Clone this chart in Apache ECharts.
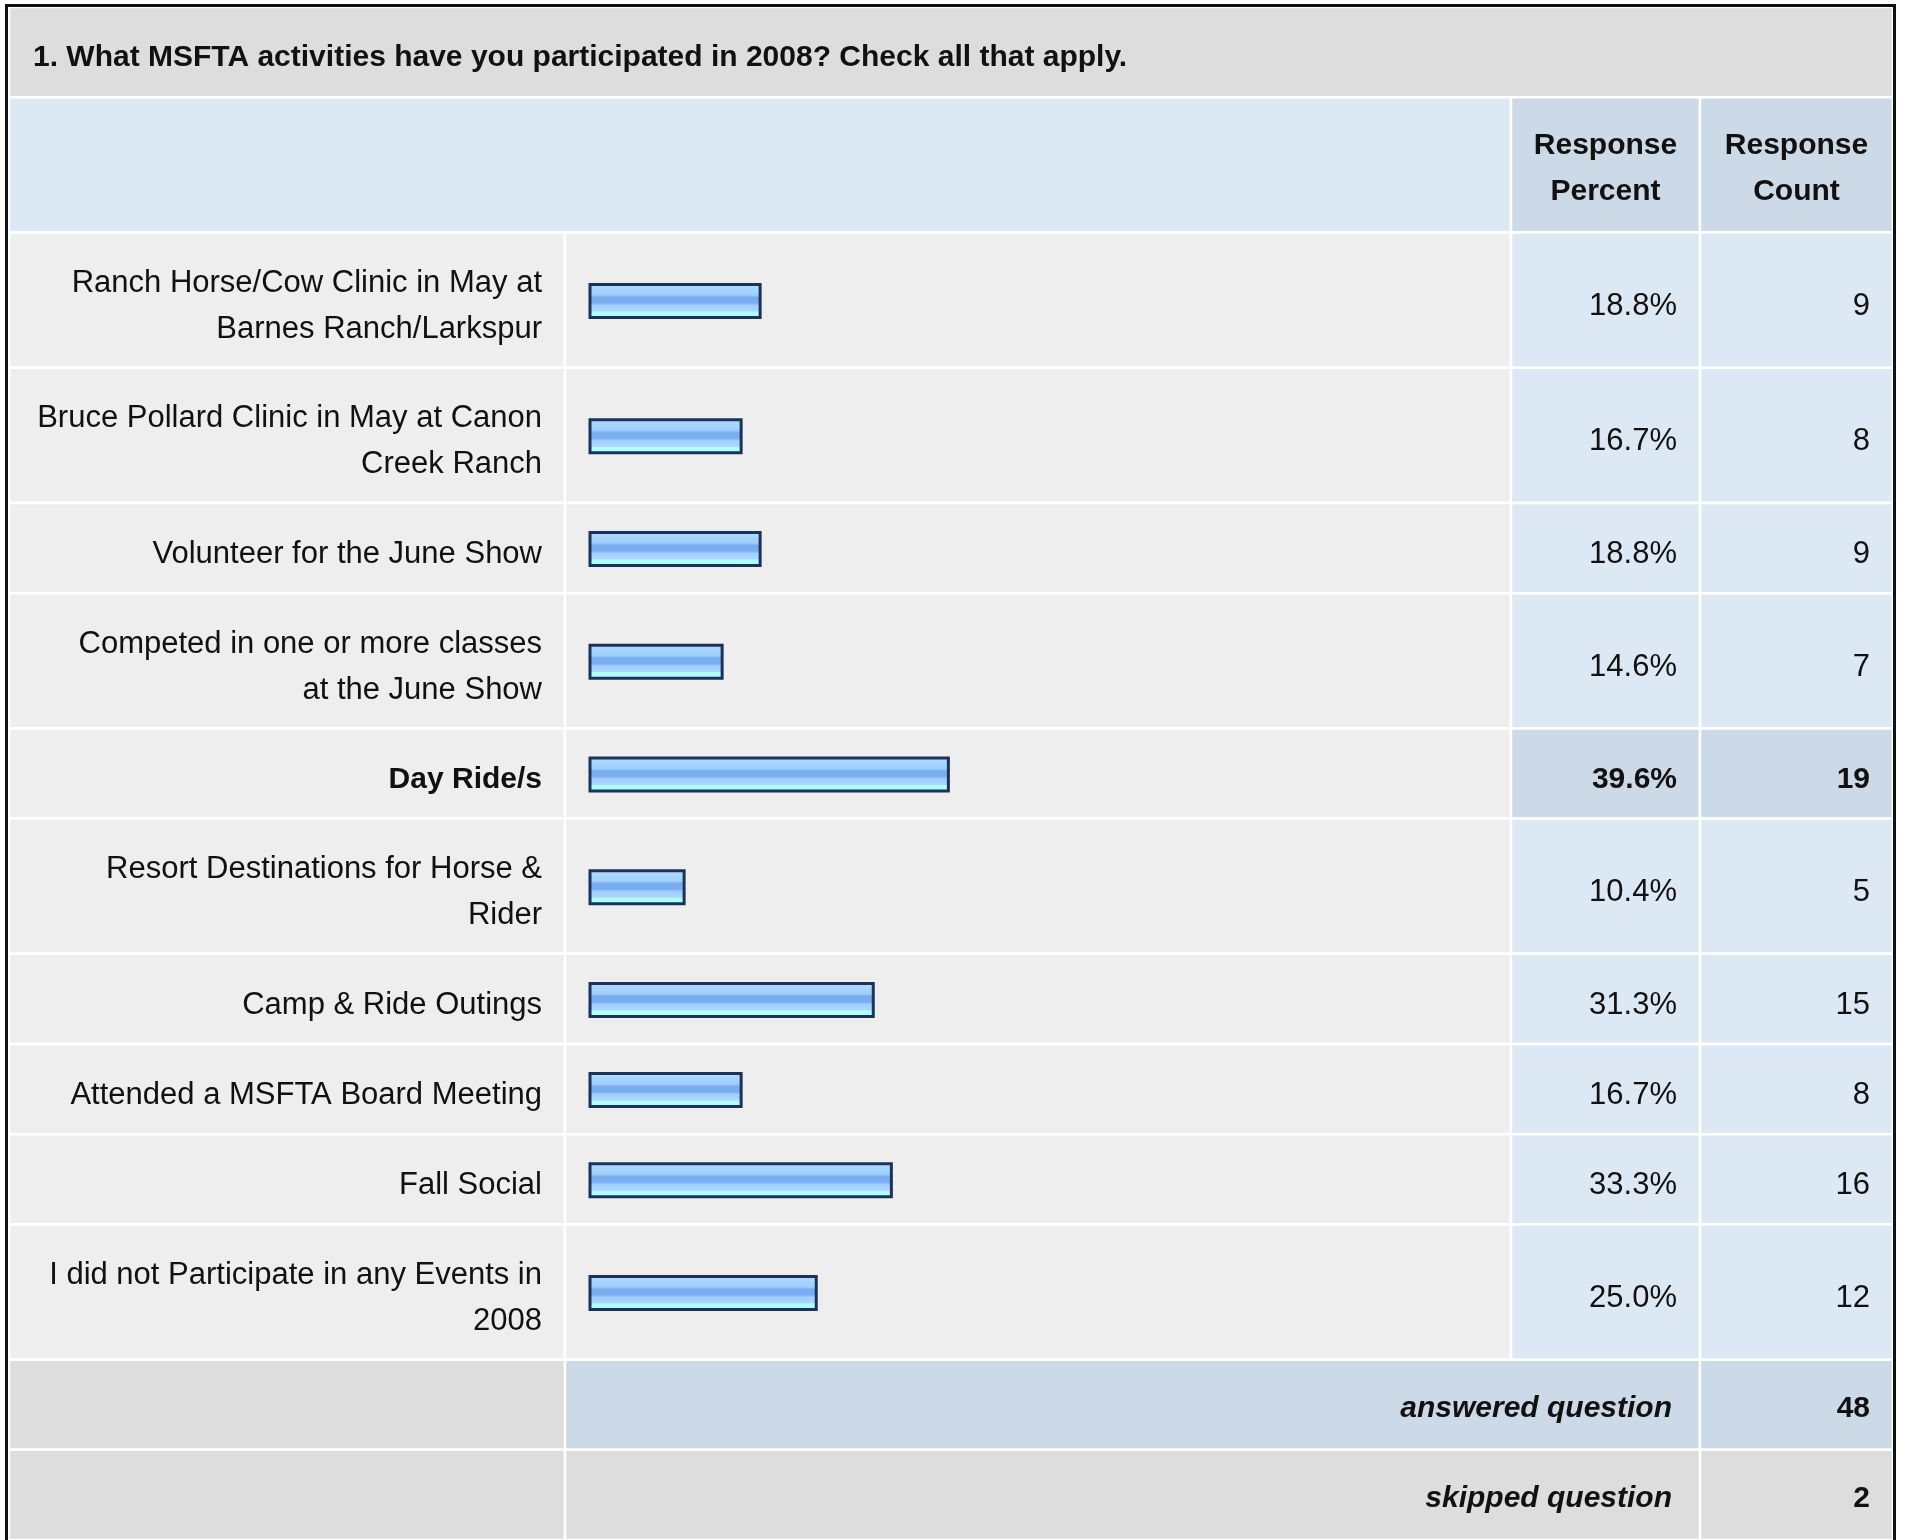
<!DOCTYPE html>
<html>
<head>
<meta charset="utf-8">
<script src="https://cdn.jsdelivr.net/npm/echarts@6/dist/echarts.min.js"></script>
<style>
html,body{margin:0;padding:0;background:#fff;}
#chart{width:1907px;height:1540px;}
</style>
</head>
<body>
<div id="chart"></div>
<script>
// ---------- data ----------
const title = '1. What MSFTA activities have you participated in 2008? Check all that apply.';
const headerLabels = ['Response\nPercent', 'Response\nCount'];
const categories = [
  'Ranch Horse/Cow Clinic in May at\nBarnes Ranch/Larkspur',
  'Bruce Pollard Clinic in May at Canon\nCreek Ranch',
  'Volunteer for the June Show',
  'Competed in one or more classes\nat the June Show',
  'Day Ride/s',
  'Resort Destinations for Horse &\nRider',
  'Camp & Ride Outings',
  'Attended a MSFTA Board Meeting',
  'Fall Social',
  'I did not Participate in any Events in\n2008'
];
const percents = [18.8, 16.7, 18.8, 14.6, 39.6, 10.4, 31.3, 16.7, 33.3, 25.0];
const counts = [9, 8, 9, 7, 19, 5, 15, 8, 16, 12];
const footerLabels = ['answered question', 'skipped question'];
const footerValues = [48, 2];

// ---------- layout (positions / styles only) ----------
const COL = { left: 9, labelR: 565, pctL: 1511, cntL: 1700, right: 1893 };
const FONT = '"Liberation Sans", Arial, Helvetica, sans-serif';
const FS_REG = 31, FS_BOLD = 30, LH = 46, PAD = 23;
const DY = { title: 5.5, header: 4, data: 6.5, footer: 4 };
const C = {
  title: '#dddddd', head: '#dde8f5', headDark: '#ccd9e6',
  cell: '#eeeeee', num: '#dde8f5', numHi: '#ccd9e6', foot: '#dddddd', footHi: '#ccd9e6',
  text: '#111111', sep: '#ffffff'
};
const maxCount = Math.max(...counts);

// build rows in "line units" (rows with n text lines take n+1 units)
const rows = [];
let yCur = 0;
function addRow(kind, units, extra) {
  rows.push(Object.assign({ kind, y0: yCur, y1: yCur + units }, extra));
  yCur += units;
}
addRow('title', 2, {});
addRow('header', 3, {});
categories.forEach((c, i) => {
  const lines = c.split('\n').length;
  addRow('data', lines + 1, { i });
});
footerLabels.forEach((f, i) => addRow('footer', 2, { i }));
const totalUnits = yCur;

function renderItem(params, api) {
  const r = rows[api.value(0)];
  const top = api.coord([0, r.y0])[1];
  const bot = api.coord([0, r.y1])[1];
  const h = bot - top;
  const cy = (top + bot) / 2 + DY[r.kind];
  const ch = [];
  const cell = (x0, x1, fill) => ch.push({
    type: 'rect', shape: { x: x0, y: top, width: x1 - x0, height: h },
    style: { fill, stroke: C.sep, lineWidth: 2.5 }
  });
  const txt = (x, t, align, weight, style) => ch.push({
    type: 'text',
    style: {
      x, y: cy, text: t, align, verticalAlign: 'middle',
      fontFamily: FONT, fontSize: weight === 'bold' ? FS_BOLD : FS_REG,
      fontWeight: weight || 'normal', fontStyle: style || 'normal',
      lineHeight: LH, fill: C.text
    }
  });

  if (r.kind === 'title') {
    cell(COL.left, COL.right, C.title);
    txt(COL.left + 24, title, 'left', 'bold');
  } else if (r.kind === 'header') {
    cell(COL.left, COL.pctL, C.head);
    cell(COL.pctL, COL.cntL, C.headDark);
    cell(COL.cntL, COL.right, C.headDark);
    txt((COL.pctL + COL.cntL) / 2, headerLabels[0], 'center', 'bold');
    txt((COL.cntL + COL.right) / 2, headerLabels[1], 'center', 'bold');
  } else if (r.kind === 'data') {
    const i = r.i;
    const hi = counts[i] === maxCount;
    const w = hi ? 'bold' : 'normal';
    cell(COL.left, COL.labelR, C.cell);
    cell(COL.labelR, COL.pctL, C.cell);
    cell(COL.pctL, COL.cntL, hi ? C.numHi : C.num);
    cell(COL.cntL, COL.right, hi ? C.numHi : C.num);
    txt(COL.labelR - PAD, categories[i], 'right', w);
    txt(COL.cntL - PAD, percents[i].toFixed(1) + '%', 'right', w);
    txt(COL.right - PAD, String(counts[i]), 'right', w);
    // the bar, through the axis scales
    const mid = (r.y0 + r.y1) / 2;
    const p0 = api.coord([0, mid]);
    const p1 = api.coord([percents[i], mid]);
    const bh = 33;
    ch.push({
      type: 'rect',
      shape: { x: p0[0], y: p0[1] - bh / 2 + 1, width: p1[0] - p0[0], height: bh },
      style: {
        fill: {
          type: 'linear', x: 0, y: 0, x2: 0, y2: 1,
          colorStops: [
            { offset: 0, color: '#d2ebff' },
            { offset: 0.1, color: '#acd7ff' },
            { offset: 0.33, color: '#9fcffd' },
            { offset: 0.4, color: '#78adf0' },
            { offset: 0.55, color: '#78adf0' },
            { offset: 0.62, color: '#9fcffd' },
            { offset: 0.78, color: '#acd7ff' },
            { offset: 0.8, color: '#b0ffff' },
            { offset: 1, color: '#b0ffff' }
          ]
        },
        stroke: '#1b3358', lineWidth: 3
      }
    });
  } else if (r.kind === 'footer') {
    const i = r.i;
    const fill = i === 0 ? C.footHi : C.foot;
    cell(COL.left, COL.labelR, C.foot);
    cell(COL.labelR, COL.cntL, fill);
    cell(COL.cntL, COL.right, fill);
    txt(COL.cntL - 28, footerLabels[i], 'right', 'bold', 'italic');
    txt(COL.right - PAD, String(footerValues[i]), 'right', 'bold');
  }
  return { type: 'group', children: ch };
}

const chart = echarts.init(document.getElementById('chart'), null, { renderer: 'canvas' });
chart.setOption({
  animation: false,
  backgroundColor: '#ffffff',
  grid: { left: 590, right: 1907 - (590 + 905), top: 7, height: 45.1 * totalUnits },
  xAxis: { type: 'value', min: 0, max: 100, show: false },
  yAxis: { type: 'value', min: 0, max: totalUnits, inverse: true, show: false },
  series: [{
    type: 'custom',
    clip: false,
    renderItem,
    data: rows.map((r, i) => [i, r.y0])
  }],
  graphic: [{
    type: 'rect', z: 100,
    shape: { x: 6.5, y: 5.5, width: 1888, height: 1600 },
    style: { fill: 'none', stroke: '#111', lineWidth: 3 }
  }]
});
</script>
</body>
</html>
